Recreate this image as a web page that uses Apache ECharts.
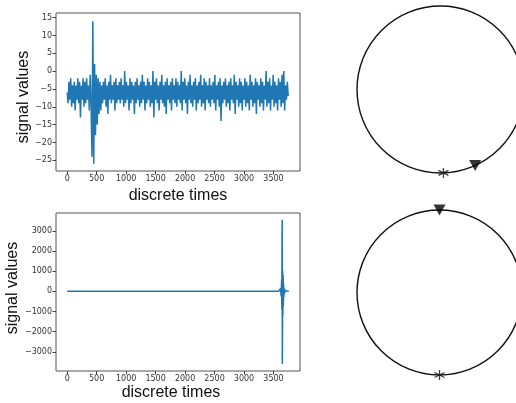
<!DOCTYPE html>
<html>
<head>
<meta charset="utf-8">
<script src="https://cdn.jsdelivr.net/npm/echarts@6/dist/echarts.min.js"></script>
<style>
  html, body { margin: 0; padding: 0; background: #fff; }
  #main { width: 516px; height: 403px; }
</style>
</head>
<body>
<div id="main"></div>
<script>
/* data */
var step1 = 15;   // discrete time between samples of the first signal
var signal1 = [
  -6,-9,-3,-8,-2,-10,-4,-9,-3,-11,-4,-8,-2,-9,-3,-13,-4,-8,-2,-10,
  -3,-9,-2,-8,-4,-11,-1,-9,-24,14,-26,2,-18,-1,-15,-2,-12,-3,-11,-4,
  -9,-3,-8,-2,-10,-4,-12,-3,-8,-1,-9,-4,-8,-3,-11,-2,-9,-4,-8,-3,
  -9,-2,-8,-4,-10,0,-9,-3,-8,-4,-11,-2,-9,-3,-8,-4,-12,-3,-9,-2,
  -8,-4,-10,-3,-9,-1,-8,-3,-11,-4,-9,-2,-8,-3,-10,-4,-9,0,-13,-3,
  -8,-2,-9,-4,-11,-3,-8,-1,-9,-4,-10,-3,-12,-2,-8,-4,-9,-3,-11,-2,
  -8,-4,-9,-2,-10,-3,-8,-4,-9,0,-11,-3,-8,-2,-9,-4,-12,-3,-8,-1,
  -9,-4,-10,-3,-8,-2,-11,-4,-9,-3,-8,-1,-10,-4,-9,-2,-11,-3,-8,-4,
  -9,-2,-10,-4,-8,-3,-9,-1,-11,-4,-8,-3,-10,-2,-14,-4,-9,-3,-8,-2,
  -10,-4,-9,-3,-11,-2,-8,-4,-9,-1,-12,-3,-8,-4,-10,-2,-9,-3,-11,-4,
  -8,-2,-10,-3,-9,-4,-11,-1,-8,-3,-10,-4,-9,-2,-12,-3,-8,-4,-10,-2,
  -9,-3,-11,-4,-8,0,-10,-3,-9,-2,-11,-4,-8,-1,-10,-3,-9,-4,-11,-2,
  -8,-3,-10,-1,-9,0,-11,-4,-8,-3,-7
];
var times2  = [0, 3590, 3600, 3610, 3620, 3630, 3638, 3642, 3645, 3648, 3650, 3653, 3656, 3660, 3664, 3668, 3672, 3676, 3680, 3690, 3700, 3720, 3740, 3760];
var signal2 = [0, 0, 50, -80, 150, -250, 600, -900, 2700, 3550, -3600, -2000, 1000, -1200, 800, -700, 400, -300, 150, -100, 60, -30, 0, 0];

var xTicks  = [0, 500, 1000, 1500, 2000, 2500, 3000, 3500];
var yTicks1 = [-25, -20, -15, -10, -5, 0, 5, 10, 15];
var yTicks2 = [-3000, -2000, -1000, 0, 1000, 2000, 3000];

// marker angles on the two circles (degrees, counter-clockwise from east)
var triangleAngles = [294.5, 90];
var starAngles = [272, 270];

var blue = '#1f77b4';
var tickFont = 'DejaVu Sans';
var titleFont = 'Liberation Sans';

function fmt(v) {
  return v < 0 ? '\u2212' + Math.abs(v) : String(v);
}

function pairs(xs, ys) {
  return ys.map(function (v, i) { return [xs[i], v]; });
}

var data1 = signal1.map(function (v, i) { return [i * step1, v]; });
var data2 = pairs(times2, signal2);

function xAxisCfg(idx, gap, pad) {
  return {
    gridIndex: idx, type: 'value', min: -190, max: 3950,
    name: 'discrete times', nameLocation: 'middle', nameGap: gap,
    nameTextStyle: { fontFamily: titleFont, fontSize: 16, color: '#111', padding: pad },
    axisLine: { show: false, onZero: false },
    axisTick: { show: true, length: 3.5, customValues: xTicks, lineStyle: { color: '#444' } },
    axisLabel: { customValues: xTicks, formatter: fmt, fontFamily: tickFont, fontSize: 8, color: '#333', margin: 4 },
    splitLine: { show: false }
  };
}

function yAxisCfg(idx, min, max, ticks, pad) {
  return {
    gridIndex: idx, type: 'value', min: min, max: max,
    name: 'signal values', nameLocation: 'middle', nameGap: 21, nameRotate: 90,
    nameTextStyle: { fontFamily: titleFont, fontSize: 16, color: '#111', padding: pad },
    axisLine: { show: false, onZero: false },
    axisTick: { show: true, length: 3.5, customValues: ticks, lineStyle: { color: '#444' } },
    axisLabel: { customValues: ticks, formatter: fmt, fontFamily: tickFont, fontSize: 8, color: '#333', margin: 4 },
    splitLine: { show: false }
  };
}

var asterisk = 'path://M0,-5L0,5M-4.33,-2.5L4.33,2.5M-4.33,2.5L4.33,-2.5';

var myChart = echarts.init(document.getElementById('main'), null, { renderer: 'canvas' });
var option = {
  backgroundColor: '#fff',
  animation: false,
  grid: [
    { left: 56, top: 13, width: 244, height: 158, show: true, borderColor: '#555', borderWidth: 1 },
    { left: 56, top: 213, width: 244, height: 158, show: true, borderColor: '#555', borderWidth: 1 }
  ],
  xAxis: [xAxisCfg(0, 17, [0, 0, 0, 0]), xAxisCfg(1, 14, [0, 14, 0, 0])],
  yAxis: [
    yAxisCfg(0, -28, 16.3, yTicks1, [0, 10, 0, 0]),
    yAxisCfg(1, -3950, 3880, yTicks2, [0, 0, 0, 8])
  ],
  polar: [
    { center: [440.5, 89.5], radius: 83.5 },
    { center: [439.5, 292.5], radius: 82.5 }
  ],
  angleAxis: [0, 1].map(function (i) {
    return {
      polarIndex: i, type: 'value', min: 0, max: 360, startAngle: 0, clockwise: false,
      axisLine: { lineStyle: { color: '#111', width: 1.4 } },
      axisTick: { show: false }, axisLabel: { show: false }, splitLine: { show: false }
    };
  }),
  radiusAxis: [0, 1].map(function (i) {
    return { polarIndex: i, min: 0, max: 1, show: false, axisLine: { show: false }, axisTick: { show: false }, axisLabel: { show: false }, splitLine: { show: false } };
  }),
  series: [
    {
      type: 'line', xAxisIndex: 0, yAxisIndex: 0, data: data1, showSymbol: false,
      lineStyle: { color: blue, width: 1.5 }, silent: true
    },
    {
      type: 'line', xAxisIndex: 1, yAxisIndex: 1, data: data2, showSymbol: false,
      lineStyle: { color: blue, width: 1.5 }, silent: true
    }
  ]
};

[0, 1].forEach(function (i) {
  option.series.push({
    type: 'scatter', coordinateSystem: 'polar', polarIndex: i,
    data: [[1, triangleAngles[i]]], symbol: 'triangle', symbolRotate: 180, symbolSize: [12, 11],
    itemStyle: { color: '#000' }
  });
  option.series.push({
    type: 'scatter', coordinateSystem: 'polar', polarIndex: i,
    data: [[1, starAngles[i]]], symbol: asterisk, symbolSize: 10,
    itemStyle: { color: 'transparent', borderColor: '#111', borderWidth: 1.3 }
  });
});

myChart.setOption(option);
</script>
</body>
</html>
